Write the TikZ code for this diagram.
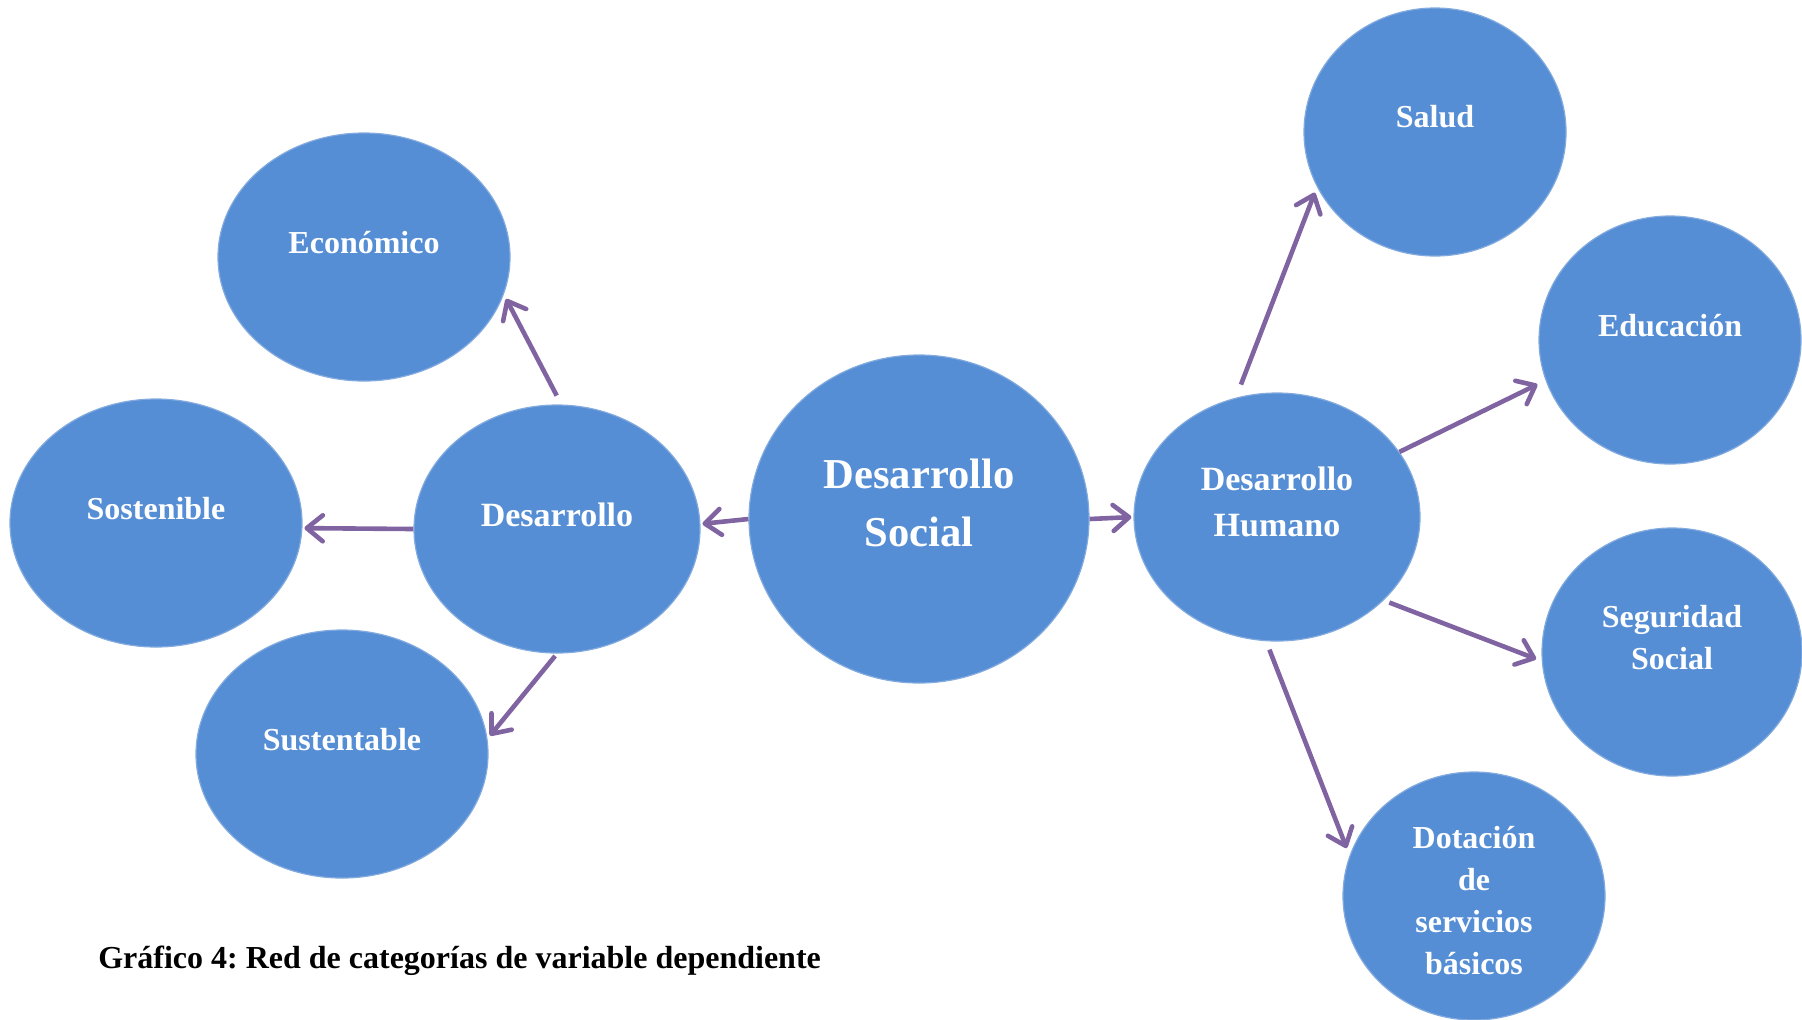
\documentclass[tikz,border=0pt]{standalone}
\usepackage{fontspec}
\setmainfont{Liberation Serif}
\frenchspacing
\usetikzlibrary{arrows.meta,shapes.geometric}

\definecolor{bubblefill}{RGB}{85,142,213}
\definecolor{bubbleline}{RGB}{130,170,222}
\definecolor{arrowline}{RGB}{128,100,162}

\begin{document}
\begin{tikzpicture}[x=0.5pt,y=-0.5pt,->,>={Straight Barb[round,length=8pt,width=13pt]},shorten >=1pt,line width=2.3pt]
                \tikzstyle{bubble}=[ellipse,fill=bubblefill,draw=bubbleline,line width=0.6pt,inner sep=0pt,minimum width=131pt,minimum height=124pt]
                \tikzstyle{wide}=[minimum width=146pt]
                \tikzstyle{txt}=[text=white,align=center,inner sep=0pt,font=\fontsize{16}{21}\selectfont\bfseries]
                \tikzstyle{big}=[font=\fontsize{17}{23}\selectfont\bfseries]
                \tikzstyle{caption}=[anchor=west,inner sep=0pt,font=\fontsize{16}{19}\selectfont\bfseries]
                \tikzstyle{every edge}=[draw=arrowline]

                \useasboundingbox (0,0) rectangle (1802,1019);

                % centre
                \node[bubble,minimum width=170pt,minimum height=164pt,label={[txt,font=\fontsize{21.3}{28.7}\selectfont\bfseries,yshift=8pt]center:Desarrollo\\Social}] (soc) at (919,519) {};

                % left side
                \node[bubble,minimum width=143pt,label={[txt,big,yshift=7pt]center:Desarrollo}] (des) at (557,529) {};
                \node[bubble,wide,label={[txt,yshift=7pt]center:Económico}]  (eco) at (364,257) {};
                \node[bubble,wide,label={[txt,yshift=7pt]center:Sostenible}] (sos) at (156,523) {};
                \node[bubble,wide,label={[txt,yshift=7pt]center:Sustentable}] (sus) at (342,754) {};

                % right side
                \node[bubble,minimum width=143pt,label={[txt,big,yshift=7.5pt]center:Desarrollo\\Humano}] (hum) at (1277,517) {};
                \node[bubble,label={[txt,yshift=7.5pt]center:Salud}]     (sal) at (1435,132) {};
                \node[bubble,label={[txt,yshift=7pt]center:Educación}]   (edu) at (1670,340) {};
                \node[bubble,minimum width=130pt,label={[txt,yshift=7pt]center:Seguridad\\Social}] (seg) at (1672,652) {};
                \node[bubble,label={[txt,yshift=-2.5pt]center:Dotación\\de\\servicios\\básicos}] (dot) at (1474,896) {};

                \node[caption] (cap) at (96,961) {Gráfico 4: Red de categorías de variable dependiente};

                \path   (soc.west) edge                                  (des.2)
                        (soc.east) edge                                  (hum.west)
                        (des.88) edge[shorten <=5pt,shorten >=2.5pt]     (eco.-15)
                        (des.west) edge                                  (sos.-2)
                        (des.south) edge[shorten <=1.5pt,shorten >=2pt]  (sus.6)
                        (hum.109) edge[shorten <=7pt,shorten >=3pt]      (sal.205)
                        (hum.28) edge[shorten >=4.5pt]                   (edu.198)
                        (hum.-38) edge[shorten <=3pt,shorten >=3pt]      (seg.184)
                        (hum.-95.5) edge[shorten <=4.5pt,shorten >=4pt]  (dot.162);
            \end{tikzpicture}
\end{document}
